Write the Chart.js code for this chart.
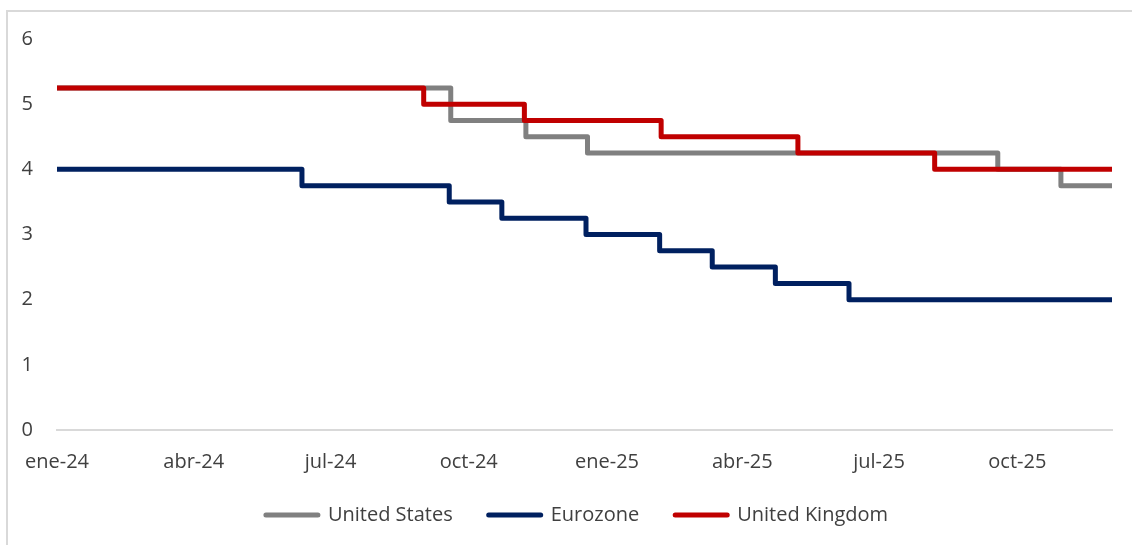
<!DOCTYPE html>
<html>
<head>
<meta charset="utf-8">
<script src="https://cdn.jsdelivr.net/npm/chart.js@4.4.1/dist/chart.umd.min.js"></script>
<style>
  html, body { margin: 0; padding: 0; background: #ffffff; }
  #wrap { position: relative; width: 1132px; height: 545px; overflow: hidden; }
  #frame { position: absolute; left: 6px; top: 10px; width: 1200px; height: 600px;
           border-left: 2px solid #d9d9d9; border-top: 2px solid #d9d9d9; box-sizing: border-box; }
  canvas { position: absolute; left: 0; top: 0; }
</style>
</head>
<body>
<div id="wrap">
  <div id="frame"></div>
  <canvas id="c" width="1132" height="545"></canvas>
</div>
<script>
// ---- Data (policy rate change dates and levels) ----
const startDate = '2024-01-01';

const usDates = ['2024-01-01','2024-09-19','2024-11-08','2024-12-19','2025-09-18','2025-10-30','2025-12-03'];
const usRates = [5.25, 4.75, 4.50, 4.25, 4.00, 3.75, 3.75];

const ezDates = ['2024-01-01','2024-06-12','2024-09-18','2024-10-23','2024-12-18','2025-02-05','2025-03-12','2025-04-23','2025-06-11','2025-12-03'];
const ezRates = [4.00, 3.75, 3.50, 3.25, 3.00, 2.75, 2.50, 2.25, 2.00, 2.00];

const ukDates = ['2024-01-01','2024-09-01','2024-11-07','2025-02-06','2025-05-08','2025-08-07','2025-12-03'];
const ukRates = [5.25, 5.00, 4.75, 4.50, 4.25, 4.00, 4.00];

const tickDates  = ['2024-01-01','2024-04-01','2024-07-01','2024-10-01','2025-01-01','2025-04-01','2025-07-01','2025-10-01'];
const tickLabels = ['ene-24','abr-24','jul-24','oct-24','ene-25','abr-25','jul-25','oct-25'];

const seriesNames = ['United States','Eurozone','United Kingdom'];
const seriesColors = ['#808080','#002060','#c00000'];
const drawOrder = [2, 1, 0]; // lower = drawn on top (UK over US)

// ---- helpers ----
function dayIndex(s) {
  const [y, m, d] = s.split('-').map(Number);
  const [y0, m0, d0] = startDate.split('-').map(Number);
  return Math.round((Date.UTC(y, m - 1, d) - Date.UTC(y0, m0 - 1, d0)) / 86400000);
}
function pts(dates, vals) { return dates.map((d, i) => ({ x: dayIndex(d), y: vals[i] })); }

const tickPos = tickDates.map(dayIndex);
const lastDay = Math.max(dayIndex(usDates[usDates.length - 1]), dayIndex(ezDates[ezDates.length - 1]), dayIndex(ukDates[ukDates.length - 1]));

const FONT = '"Open Sans", sans-serif';
const TXT = '#404040';

const mk = (i, data) => ({
  label: seriesNames[i],
  data,
  order: drawOrder[i],
  borderColor: seriesColors[i],
  backgroundColor: seriesColors[i],
  borderWidth: 5,
  stepped: true,
  pointRadius: 0,
  borderJoinStyle: 'round',
  borderCapStyle: 'butt',
  fill: false
});

// shift the legend block to sit where the reference has it
const legendShift = {
  id: 'legendShift',
  afterLayout(chart) {
    const l = chart.legend;
    if (!l) return;
    l.left += 12; l.right += 12;
    l.top -= 10; l.bottom -= 10;
  }
};

new Chart(document.getElementById('c'), {
  type: 'line',
  data: {
    datasets: [
      mk(0, pts(usDates, usRates)),
      mk(1, pts(ezDates, ezRates)),
      mk(2, pts(ukDates, ukRates))
    ]
  },
  plugins: [legendShift],
  options: {
    responsive: false,
    animation: false,
    events: [],
    layout: { padding: { left: 18, right: 20, top: 39, bottom: 0 } },
    scales: {
      x: {
        type: 'linear',
        min: 0,
        max: lastDay,
        afterBuildTicks: s => { s.ticks = tickPos.map(v => ({ value: v })); },
        afterFit: s => { s.height = 49; },
        grid: { display: false, drawTicks: false },
        border: { display: true, color: '#d9d9d9', width: 2 },
        ticks: {
          padding: 20,
          autoSkip: false,
          maxRotation: 0,
          color: TXT,
          font: { family: FONT, size: 20 },
          callback: (v) => { const i = tickPos.indexOf(v); return i >= 0 ? tickLabels[i] : ''; }
        }
      },
      y: {
        min: 0,
        max: 6,
        afterFit: s => { s.width = 39; },
        grid: { display: false, drawTicks: false },
        border: { display: false },
        ticks: {
          stepSize: 1,
          padding: 24,
          color: TXT,
          font: { family: FONT, size: 20 }
        }
      }
    },
    plugins: {
      tooltip: { enabled: false },
      legend: {
        position: 'bottom',
        labels: {
          usePointStyle: true,
          pointStyleWidth: 52,
          padding: 36,
          color: TXT,
          font: { family: FONT, size: 20 },
          generateLabels: (chart) => chart.data.datasets.map((ds, i) => ({
            text: ds.label,
            fillStyle: ds.borderColor,
            strokeStyle: ds.borderColor,
            lineWidth: 5,
            lineCap: 'round',
            pointStyle: 'line',
            fontColor: TXT,
            datasetIndex: i,
            hidden: false
          }))
        }
      }
    }
  }
});
</script>
</body>
</html>
